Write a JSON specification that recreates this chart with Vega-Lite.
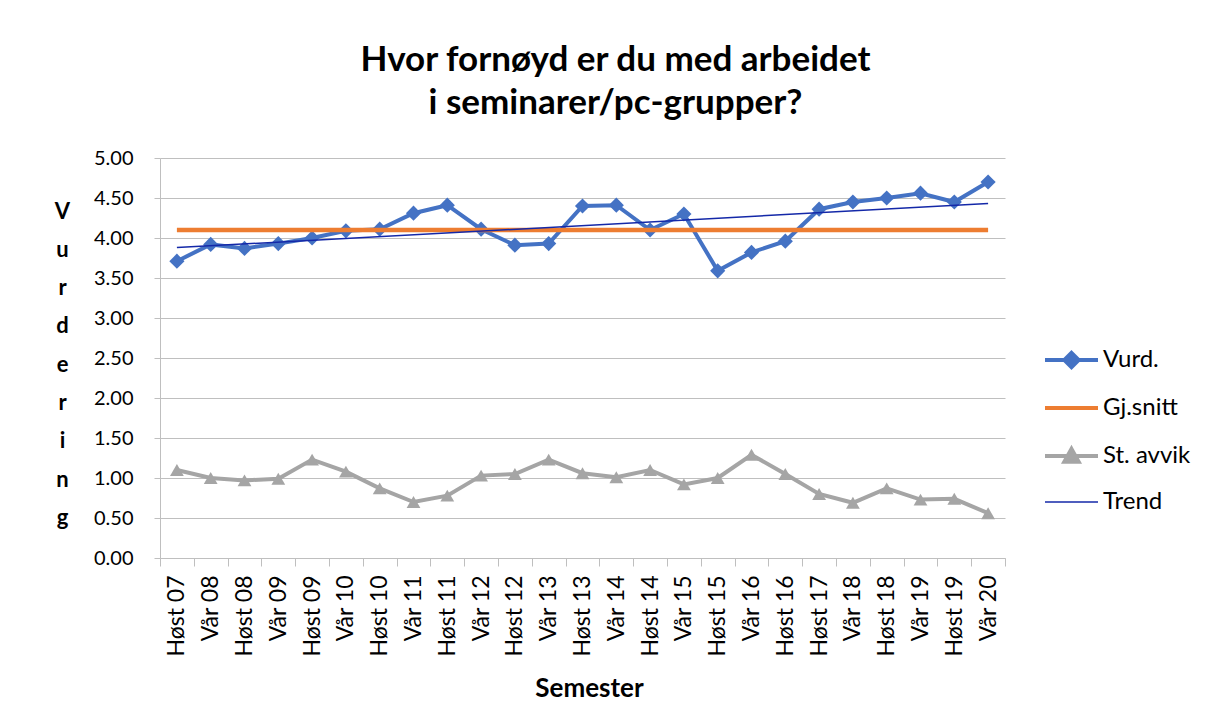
{
  "$schema": "https://vega.github.io/schema/vega-lite/v6.json",
  "width": 845,
  "height": 400,
  "autosize": {"type": "none"},
  "padding": {"left": 160, "top": 158, "right": 203, "bottom": 169},
  "background": "white",
  "config": {
    "font": "Lato",
    "view": {"stroke": null}
  },
  "title": {
    "text": ["Hvor fornøyd er du med arbeidet", "i seminarer/pc-grupper?"],
    "font": "Lato",
    "fontSize": 35,
    "fontWeight": "bold",
    "color": "#000000",
    "anchor": "middle",
    "dx": 33,
    "offset": 27,
    "lineHeight": 43
  },
  "data": {
    "values": [
      {"sem": "Høst 07", "serie": "Vurd.", "v": 3.71},
      {"sem": "Vår 08", "serie": "Vurd.", "v": 3.92},
      {"sem": "Høst 08", "serie": "Vurd.", "v": 3.87},
      {"sem": "Vår 09", "serie": "Vurd.", "v": 3.93},
      {"sem": "Høst 09", "serie": "Vurd.", "v": 4.00},
      {"sem": "Vår 10", "serie": "Vurd.", "v": 4.09},
      {"sem": "Høst 10", "serie": "Vurd.", "v": 4.11},
      {"sem": "Vår 11", "serie": "Vurd.", "v": 4.31},
      {"sem": "Høst 11", "serie": "Vurd.", "v": 4.41},
      {"sem": "Vår 12", "serie": "Vurd.", "v": 4.11},
      {"sem": "Høst 12", "serie": "Vurd.", "v": 3.91},
      {"sem": "Vår 13", "serie": "Vurd.", "v": 3.93},
      {"sem": "Høst 13", "serie": "Vurd.", "v": 4.40},
      {"sem": "Vår 14", "serie": "Vurd.", "v": 4.41},
      {"sem": "Høst 14", "serie": "Vurd.", "v": 4.10},
      {"sem": "Vår 15", "serie": "Vurd.", "v": 4.30},
      {"sem": "Høst 15", "serie": "Vurd.", "v": 3.59},
      {"sem": "Vår 16", "serie": "Vurd.", "v": 3.82},
      {"sem": "Høst 16", "serie": "Vurd.", "v": 3.96},
      {"sem": "Høst 17", "serie": "Vurd.", "v": 4.36},
      {"sem": "Vår 18", "serie": "Vurd.", "v": 4.45},
      {"sem": "Høst 18", "serie": "Vurd.", "v": 4.50},
      {"sem": "Vår 19", "serie": "Vurd.", "v": 4.56},
      {"sem": "Høst 19", "serie": "Vurd.", "v": 4.45},
      {"sem": "Vår 20", "serie": "Vurd.", "v": 4.70},
      {"sem": "Høst 07", "serie": "Gj.snitt", "v": 4.10},
      {"sem": "Vår 08", "serie": "Gj.snitt", "v": 4.10},
      {"sem": "Høst 08", "serie": "Gj.snitt", "v": 4.10},
      {"sem": "Vår 09", "serie": "Gj.snitt", "v": 4.10},
      {"sem": "Høst 09", "serie": "Gj.snitt", "v": 4.10},
      {"sem": "Vår 10", "serie": "Gj.snitt", "v": 4.10},
      {"sem": "Høst 10", "serie": "Gj.snitt", "v": 4.10},
      {"sem": "Vår 11", "serie": "Gj.snitt", "v": 4.10},
      {"sem": "Høst 11", "serie": "Gj.snitt", "v": 4.10},
      {"sem": "Vår 12", "serie": "Gj.snitt", "v": 4.10},
      {"sem": "Høst 12", "serie": "Gj.snitt", "v": 4.10},
      {"sem": "Vår 13", "serie": "Gj.snitt", "v": 4.10},
      {"sem": "Høst 13", "serie": "Gj.snitt", "v": 4.10},
      {"sem": "Vår 14", "serie": "Gj.snitt", "v": 4.10},
      {"sem": "Høst 14", "serie": "Gj.snitt", "v": 4.10},
      {"sem": "Vår 15", "serie": "Gj.snitt", "v": 4.10},
      {"sem": "Høst 15", "serie": "Gj.snitt", "v": 4.10},
      {"sem": "Vår 16", "serie": "Gj.snitt", "v": 4.10},
      {"sem": "Høst 16", "serie": "Gj.snitt", "v": 4.10},
      {"sem": "Høst 17", "serie": "Gj.snitt", "v": 4.10},
      {"sem": "Vår 18", "serie": "Gj.snitt", "v": 4.10},
      {"sem": "Høst 18", "serie": "Gj.snitt", "v": 4.10},
      {"sem": "Vår 19", "serie": "Gj.snitt", "v": 4.10},
      {"sem": "Høst 19", "serie": "Gj.snitt", "v": 4.10},
      {"sem": "Vår 20", "serie": "Gj.snitt", "v": 4.10},
      {"sem": "Høst 07", "serie": "St. avvik", "v": 1.10},
      {"sem": "Vår 08", "serie": "St. avvik", "v": 1.00},
      {"sem": "Høst 08", "serie": "St. avvik", "v": 0.97},
      {"sem": "Vår 09", "serie": "St. avvik", "v": 0.99},
      {"sem": "Høst 09", "serie": "St. avvik", "v": 1.23},
      {"sem": "Vår 10", "serie": "St. avvik", "v": 1.08},
      {"sem": "Høst 10", "serie": "St. avvik", "v": 0.87},
      {"sem": "Vår 11", "serie": "St. avvik", "v": 0.70},
      {"sem": "Høst 11", "serie": "St. avvik", "v": 0.78},
      {"sem": "Vår 12", "serie": "St. avvik", "v": 1.03},
      {"sem": "Høst 12", "serie": "St. avvik", "v": 1.05},
      {"sem": "Vår 13", "serie": "St. avvik", "v": 1.23},
      {"sem": "Høst 13", "serie": "St. avvik", "v": 1.06},
      {"sem": "Vår 14", "serie": "St. avvik", "v": 1.01},
      {"sem": "Høst 14", "serie": "St. avvik", "v": 1.10},
      {"sem": "Vår 15", "serie": "St. avvik", "v": 0.92},
      {"sem": "Høst 15", "serie": "St. avvik", "v": 1.00},
      {"sem": "Vår 16", "serie": "St. avvik", "v": 1.29},
      {"sem": "Høst 16", "serie": "St. avvik", "v": 1.05},
      {"sem": "Høst 17", "serie": "St. avvik", "v": 0.80},
      {"sem": "Vår 18", "serie": "St. avvik", "v": 0.69},
      {"sem": "Høst 18", "serie": "St. avvik", "v": 0.87},
      {"sem": "Vår 19", "serie": "St. avvik", "v": 0.73},
      {"sem": "Høst 19", "serie": "St. avvik", "v": 0.74},
      {"sem": "Vår 20", "serie": "St. avvik", "v": 0.56},
      {"sem": "Høst 07", "serie": "Trend", "v": 3.88},
      {"sem": "Vår 20", "serie": "Trend", "v": 4.43}
    ]
  },
  "encoding": {
    "x": {
      "field": "sem",
      "type": "ordinal",
      "scale": {
        "type": "band",
        "paddingInner": 0,
        "paddingOuter": 0,
        "domain": ["Høst 07", "Vår 08", "Høst 08", "Vår 09", "Høst 09", "Vår 10", "Høst 10", "Vår 11", "Høst 11", "Vår 12", "Høst 12", "Vår 13", "Høst 13", "Vår 14", "Høst 14", "Vår 15", "Høst 15", "Vår 16", "Høst 16", "Høst 17", "Vår 18", "Høst 18", "Vår 19", "Høst 19", "Vår 20"]
      },
      "axis": {
        "title": "Semester",
        "titleFont": "Lato",
        "titleFontSize": 26,
        "titleFontWeight": "bold",
        "titleColor": "#000000",
        "titleX": 429,
        "titleY": 138,
        "titleBaseline": "alphabetic",
        "labelAngle": -90,
        "labelAlign": "right",
        "labelBaseline": "middle",
        "labelFont": "Lato",
        "labelFontSize": 23,
        "labelColor": "#000000",
        "labelPadding": 9,
        "tickBand": "extent",
        "tickColor": "#BFBFBF",
        "tickSize": 8,
        "domainColor": "#BFBFBF",
        "grid": false
      }
    },
    "y": {
      "field": "v",
      "type": "quantitative",
      "scale": {"domain": [0, 5], "nice": false, "zero": true},
      "axis": {
        "title": ["V", "u", "r", "d", "e", "r", "i", "n", "g"],
        "titleAngle": 0,
        "titleFont": "Lato",
        "titleFontSize": 22,
        "titleFontWeight": "bold",
        "titleColor": "#000000",
        "titleLineHeight": 38.3,
        "titleX": -98,
        "titleY": 60,
        "titleAlign": "center",
        "titleBaseline": "alphabetic",
        "values": [0, 0.5, 1, 1.5, 2, 2.5, 3, 3.5, 4, 4.5, 5],
        "format": ".2f",
        "labelFont": "Lato",
        "labelFontSize": 20,
        "labelColor": "#000000",
        "labelPadding": 21,
        "tickSize": 6,
        "tickColor": "#BFBFBF",
        "domainColor": "#BFBFBF",
        "gridColor": "#BFBFBF"
      }
    },
    "color": {
      "field": "serie",
      "type": "nominal",
      "scale": {
        "domain": ["Vurd.", "Gj.snitt", "St. avvik", "Trend"],
        "range": ["#4472C4", "#ED7D31", "#A5A5A5", "#1428A8"]
      },
      "legend": {
        "title": null,
        "orient": "none",
        "legendX": 885,
        "legendY": 190,
        "padding": 0,
        "symbolType": "M-1,0H1",
        "symbolSize": 2809,
        "symbolStrokeWidth": 4,
        "labelFont": "Lato",
        "labelFontSize": 24,
        "labelColor": "#000000",
        "labelOffset": 5,
        "rowPadding": 20,
        "encode": {
          "symbols": {
            "update": {
              "x": {"value": 26.5},
              "size": {"value": 2809},
              "shape": {"signal": "datum.value === 'Vurd.' ? 'M-1,0H1M0,-0.27L0.27,0L0,0.27L-0.27,0Z' : datum.value === 'St. avvik' ? 'M-1,0H1M0,-0.27L0.27,0.22L-0.27,0.22Z' : 'M-1,0H1'"},
              "strokeWidth": {"signal": "datum.value === 'Trend' ? 1.5 : 4"},
              "stroke": {"scale": "color", "field": "value"},
              "fill": {"scale": "color", "field": "value"},
              "opacity": {"value": 1},
              "fillOpacity": {"value": 1},
              "strokeOpacity": {"value": 1}
            }
          },
          "labels": {
            "update": {
              "x": {"value": 58}
            }
          }
        }
      }
    }
  },
  "layer": [
    {
      "transform": [{"filter": "datum.serie === 'Vurd.'"}],
      "mark": {"type": "line", "strokeWidth": 4, "point": {"shape": "diamond", "size": 230, "filled": true, "opacity": 1}}
    },
    {
      "transform": [{"filter": "datum.serie === 'Gj.snitt'"}],
      "mark": {"type": "line", "strokeWidth": 4.5}
    },
    {
      "transform": [{"filter": "datum.serie === 'St. avvik'"}],
      "mark": {"type": "line", "strokeWidth": 4, "point": {"shape": "triangle-up", "size": 190, "filled": true, "opacity": 1}}
    },
    {
      "transform": [{"filter": "datum.serie === 'Trend'"}],
      "mark": {"type": "line", "strokeWidth": 1.5}
    }
  ]
}
